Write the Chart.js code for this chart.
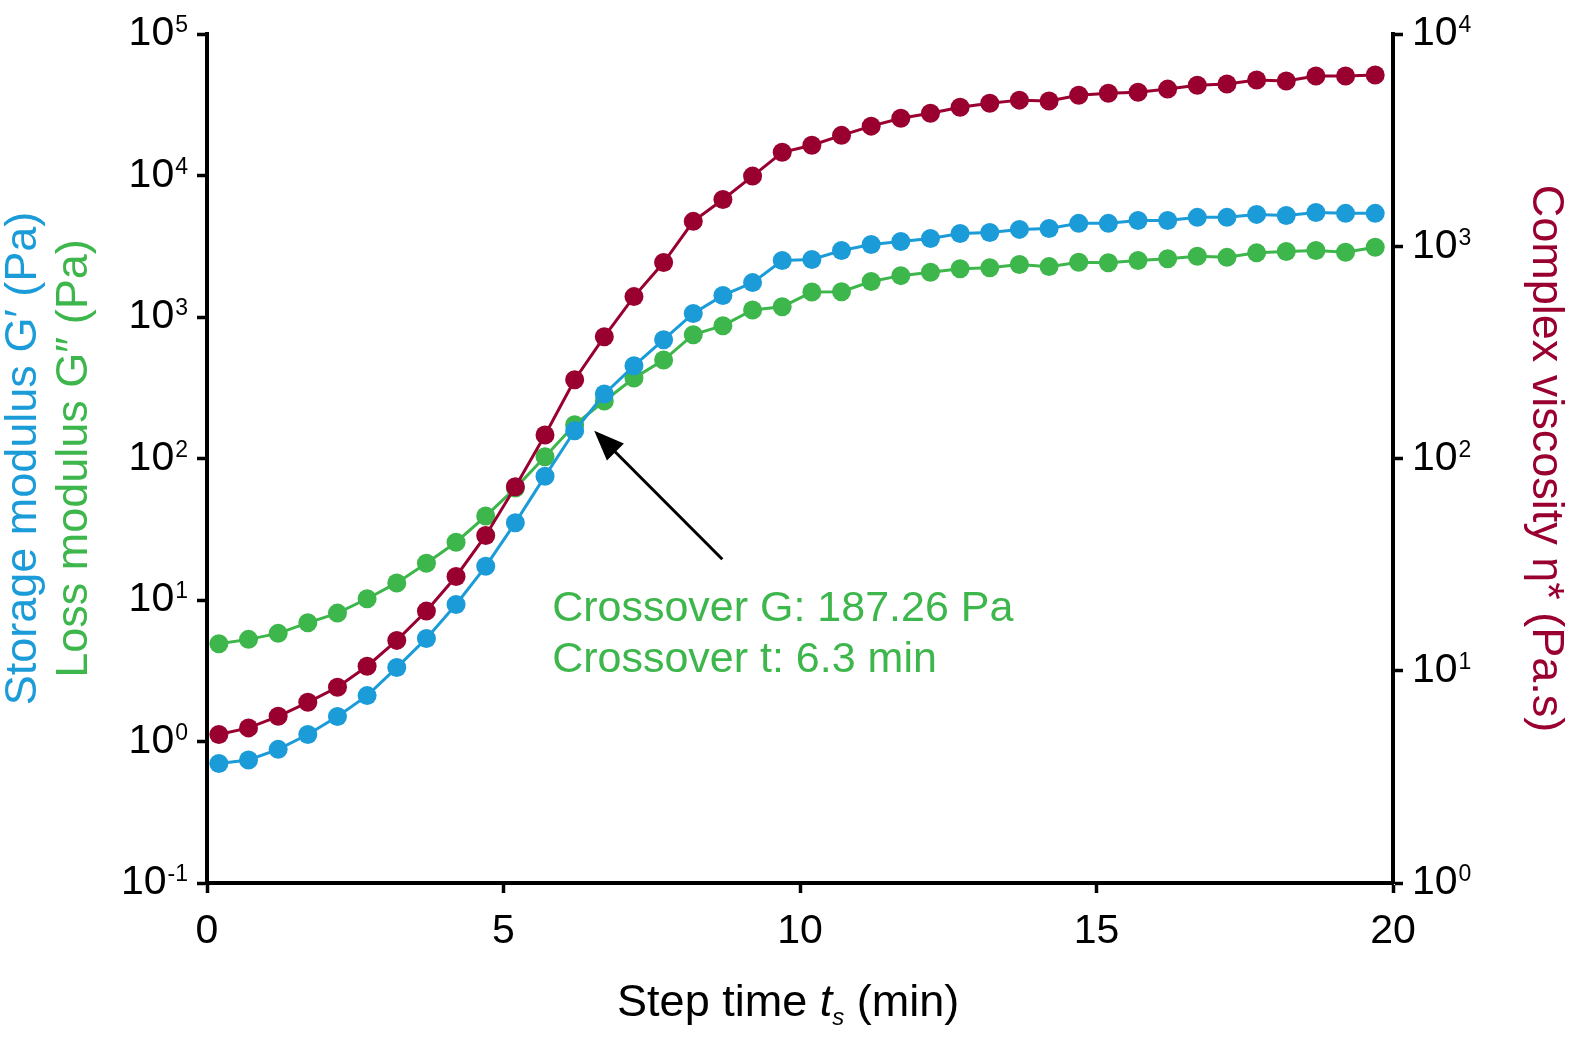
<!DOCTYPE html>
<html>
<head>
<meta charset="utf-8">
<script src="https://cdn.jsdelivr.net/npm/chart.js@4.4.1/dist/chart.umd.min.js"></script>
<style>
    html, body { margin: 0; padding: 0; background: #ffffff; }
    #chart { display: block; }
</style>
</head>
<body>
<canvas id="chart" width="1571" height="1042"></canvas>
<script>
// step time (min)
const stepTime = [0.2, 0.7, 1.2, 1.7, 2.2, 2.7, 3.2, 3.7, 4.2, 4.7,
    5.2, 5.7, 6.2, 6.7, 7.2, 7.7, 8.2, 8.7, 9.2, 9.7,
    10.2, 10.7, 11.2, 11.7, 12.2, 12.7, 13.2, 13.7, 14.2, 14.7,
    15.2, 15.7, 16.2, 16.7, 17.2, 17.7, 18.2, 18.7, 19.2, 19.7];

// G' (Pa)
const storageModulus = [0.70, 0.74, 0.88, 1.12, 1.50, 2.11, 3.33, 5.35, 9.3, 17.3,
    35.2, 75, 157, 286, 452, 691, 1060, 1420, 1750, 2510,
    2550, 2950, 3250, 3420, 3590, 3890, 3960, 4160, 4220, 4590,
    4590, 4810, 4810, 5060, 5060, 5310, 5220, 5480, 5400, 5400];

// G'' (Pa)
const lossModulus = [4.90, 5.27, 5.81, 6.90, 8.08, 10.2, 13.2, 18.2, 25.6, 39.2,
    61.8, 103, 173, 255, 370, 496, 750, 868, 1120, 1180,
    1500, 1510, 1780, 1960, 2070, 2190, 2230, 2350, 2270, 2440,
    2420, 2510, 2580, 2690, 2640, 2840, 2900, 2950, 2870, 3110];

// eta* (Pa.s)
const complexViscosity = [5.01, 5.38, 6.10, 7.10, 8.36, 10.5, 13.9, 19.1, 27.8, 43.4,
    73.6, 129, 235, 375, 579, 838, 1310, 1660, 2140, 2770,
    2990, 3330, 3680, 4010, 4230, 4520, 4720, 4880, 4830, 5150,
    5260, 5320, 5500, 5740, 5810, 6070, 6000, 6340, 6340, 6410];

const leftTicks = [0.1, 1, 10, 100, 1000, 10000, 100000];
const rightTicks = [1, 10, 100, 1000, 10000];

const crossoverLines = ['Crossover G: 187.26 Pa', 'Crossover t: 6.3 min'];

const FONT = '"Liberation Sans", Arial, sans-serif';
const COLORS = {
    storage: '#1b9cd8',
    loss: '#3db64b',
    viscosity: '#990030',
    axis: '#000000'
};

function toPoints(values) {
    return values.map((value, index) => ({ x: stepTime[index], y: value }));
}

function lineDataset(label, values, color, axisId, order) {
    return {
        label,
        data: toPoints(values),
        yAxisID: axisId,
        borderColor: color,
        backgroundColor: color,
        borderWidth: 3,
        pointRadius: 9.5,
        pointBorderWidth: 0,
        pointBackgroundColor: color,
        tension: 0,
        order,
        clip: false
    };
}

function decadeTicks(values) {
    return (scale) => {
        scale.ticks = values.map((value) => ({ value }));
    };
}

function axisGrid() {
    return {
        drawOnChartArea: false,
        drawTicks: true,
        tickLength: 10,
        tickWidth: 3.5,
        tickColor: COLORS.axis
    };
}

function drawPower(ctx, value, x, y, align) {
    const exponent = String(Math.round(Math.log10(value)));
    ctx.font = `41px ${FONT}`;
    const baseWidth = ctx.measureText('10').width;
    ctx.font = `23px ${FONT}`;
    const supWidth = ctx.measureText(exponent).width;
    const left = align === 'right' ? x - baseWidth - supWidth - 1 : x;

    ctx.fillStyle = COLORS.axis;
    ctx.textAlign = 'left';
    ctx.textBaseline = 'middle';
    ctx.font = `41px ${FONT}`;
    ctx.fillText('10', left, y);
    ctx.font = `23px ${FONT}`;
    ctx.fillText(exponent, left + baseWidth + 1, y - 8);
}

function drawRotated(ctx, text, x, y, angle, color) {
    ctx.save();
    ctx.translate(x, y);
    ctx.rotate(angle);
    ctx.fillStyle = color;
    ctx.font = `45px ${FONT}`;
    ctx.textAlign = 'center';
    ctx.textBaseline = 'middle';
    ctx.fillText(text, 0, 0);
    ctx.restore();
}

const decorations = {
    id: 'decorations',
    afterDraw(chart) {
        const { ctx, scales } = chart;
        const xs = scales.x;
        const yl = scales.y;
        const yr = scales.y2;

        ctx.save();

        // decade labels with superscripts
        yl.ticks.forEach((tick) => drawPower(ctx, tick.value, yl.right - 19, yl.getPixelForValue(tick.value), 'right'));
        yr.ticks.forEach((tick) => drawPower(ctx, tick.value, yr.left + 19, yr.getPixelForValue(tick.value), 'left'));

        // axis titles
        const midY = (yl.top + yl.bottom) / 2;
        drawRotated(ctx, 'Storage modulus G\u2032 (Pa)', 24, midY, -Math.PI / 2, COLORS.storage);
        drawRotated(ctx, 'Loss modulus G\u2033 (Pa)', 75, midY, -Math.PI / 2, COLORS.loss);
        drawRotated(ctx, 'Complex viscosity \u03b7* (Pa.s)', 1545, midY, Math.PI / 2, COLORS.viscosity);

        // x title with italic t and subscript s
        ctx.fillStyle = COLORS.axis;
        ctx.textBaseline = 'alphabetic';
        ctx.textAlign = 'left';
        const parts = [
            { text: 'Step time ', font: `45px ${FONT}`, dy: 0 },
            { text: 't', font: `italic 45px ${FONT}`, dy: 0 },
            { text: 's', font: `italic 24px ${FONT}`, dy: 9 },
            { text: ' (min)', font: `45px ${FONT}`, dy: 0 }
        ];
        let total = 0;
        parts.forEach((part) => {
            ctx.font = part.font;
            part.width = ctx.measureText(part.text).width;
            total += part.width;
        });
        let cursor = xs.getPixelForValue(9.8) - total / 2;
        parts.forEach((part) => {
            ctx.font = part.font;
            ctx.fillText(part.text, cursor, 1016 + part.dy);
            cursor += part.width;
        });

        // crossover annotation
        const tailX = xs.getPixelForValue(8.69);
        const tailY = yl.getPixelForValue(19.4);
        const tipX = xs.getPixelForValue(6.53);
        const tipY = yl.getPixelForValue(157);
        const angle = Math.atan2(tipY - tailY, tipX - tailX);
        const headLength = 30;
        const headWidth = 12;
        ctx.strokeStyle = COLORS.axis;
        ctx.lineWidth = 3;
        ctx.beginPath();
        ctx.moveTo(tailX, tailY);
        ctx.lineTo(tipX - Math.cos(angle) * (headLength - 4), tipY - Math.sin(angle) * (headLength - 4));
        ctx.stroke();
        ctx.fillStyle = COLORS.axis;
        ctx.beginPath();
        ctx.moveTo(tipX, tipY);
        ctx.lineTo(tipX - Math.cos(angle) * headLength + Math.sin(angle) * headWidth,
            tipY - Math.sin(angle) * headLength - Math.cos(angle) * headWidth);
        ctx.lineTo(tipX - Math.cos(angle) * headLength - Math.sin(angle) * headWidth,
            tipY - Math.sin(angle) * headLength + Math.cos(angle) * headWidth);
        ctx.closePath();
        ctx.fill();

        ctx.fillStyle = COLORS.loss;
        ctx.font = `43px ${FONT}`;
        ctx.textAlign = 'left';
        ctx.textBaseline = 'middle';
        const textX = xs.getPixelForValue(5.82);
        const textY = yl.getPixelForValue(8.6);
        crossoverLines.forEach((line, index) => ctx.fillText(line, textX, textY + index * 51));

        ctx.restore();
    }
};

new Chart(document.getElementById('chart').getContext('2d'), {
    type: 'line',
    data: {
        datasets: [
            lineDataset('Complex viscosity', complexViscosity, COLORS.viscosity, 'y2', 1),
            lineDataset('Storage modulus', storageModulus, COLORS.storage, 'y', 2),
            lineDataset('Loss modulus', lossModulus, COLORS.loss, 'y', 3)
        ]
    },
    options: {
        responsive: false,
        animation: false,
        devicePixelRatio: 1,
        layout: {
            autoPadding: false,
            padding: { top: 34, right: 0, bottom: 0, left: 0 }
        },
        plugins: {
            legend: { display: false },
            tooltip: { enabled: false }
        },
        scales: {
            x: {
                type: 'linear',
                min: 0,
                max: 20,
                ticks: {
                    stepSize: 5,
                    color: COLORS.axis,
                    padding: 14,
                    font: { family: FONT, size: 41 }
                },
                grid: axisGrid(),
                border: { color: COLORS.axis, width: 4 },
                afterFit: (scale) => { scale.height = 159; }
            },
            y: {
                type: 'logarithmic',
                position: 'left',
                min: 0.1,
                max: 100000,
                afterBuildTicks: decadeTicks(leftTicks),
                ticks: { display: false },
                grid: axisGrid(),
                border: { color: COLORS.axis, width: 4 },
                afterFit: (scale) => { scale.width = 207; }
            },
            y2: {
                type: 'logarithmic',
                position: 'right',
                min: 1,
                max: 10000,
                afterBuildTicks: decadeTicks(rightTicks),
                ticks: { display: false },
                grid: axisGrid(),
                border: { color: COLORS.axis, width: 4 },
                afterFit: (scale) => { scale.width = 178; }
            }
        }
    },
    plugins: [decorations]
});
</script>
</body>
</html>
